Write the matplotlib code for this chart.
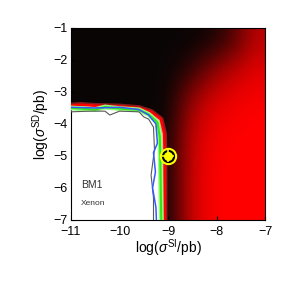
import numpy as np
import matplotlib.pyplot as plt
from matplotlib.colors import LinearSegmentedColormap

plt.rcParams['font.family'] = ['Liberation Sans', 'DejaVu Sans']
plt.rcParams['mathtext.fontset'] = 'custom'
plt.rcParams['mathtext.rm'] = 'Liberation Sans'
plt.rcParams['mathtext.it'] = 'Liberation Sans:italic'

# red intensity (rows: y = -7..-1, cols: x = -11..-7 step 0.5)
x_grid = [-11, -10.5, -10, -9.5, -9, -8.5, -8, -7.5, -7]
y_grid = [-7, -6, -5, -4, -3, -2, -1]
red_level = [
    [0, 0, 0, 0, 0.05, 0.78, 0.98, 1.0, 1.0],
    [0, 0, 0, 0, 0.05, 0.78, 0.98, 1.0, 1.0],
    [0, 0, 0, 0, 0.05, 0.75, 0.97, 1.0, 1.0],
    [0, 0, 0, 0, 0.03, 0.68, 0.93, 0.98, 1.0],
    [0, 0, 0, 0, 0.0, 0.5, 0.8, 0.92, 0.96],
    [0, 0, 0, 0, 0.0, 0.12, 0.48, 0.72, 0.88],
    [0, 0, 0, 0, 0.0, 0.0, 0.05, 0.28, 0.72],
]

# contour lines (x, y)
red_x = [-11, -10.8, -10.5, -10.0, -9.6, -9.35, -9.15, -9.08, -9.07, -9.07, -9.07]
red_y = [-3.42, -3.4, -3.43, -3.45, -3.5, -3.62, -3.85, -4.3, -5.0, -6.0, -7.0]
green_x = [-11, -10.5, -10.3, -10.0, -9.6, -9.4, -9.22, -9.17, -9.16, -9.15, -9.14]
green_y = [-3.5, -3.55, -3.47, -3.52, -3.56, -3.7, -3.95, -4.4, -5.0, -6.0, -7.0]
blue_x = [-11, -10.5, -10.0, -9.6, -9.4, -9.25, -9.22, -9.3, -9.26, -9.32, -9.25, -9.24]
blue_y = [-3.48, -3.5, -3.48, -3.55, -3.72, -4.0, -4.6, -4.9, -5.5, -6.0, -6.6, -7.0]
gray_x = [-11, -10.6, -10.3, -10.2, -10.0, -9.6, -9.5, -9.4, -9.3, -9.28, -9.35, -9.3, -9.3]
gray_y = [-3.62, -3.6, -3.6, -3.72, -3.6, -3.62, -3.78, -3.85, -4.1, -4.8, -5.6, -6.3, -7.0]

point_x = [-9.0]
point_y = [-5.0]

cmap = LinearSegmentedColormap.from_list('kr', [(0.04, 0.02, 0.02), (1.0, 0.0, 0.0)])

fig = plt.figure(figsize=(2.91, 2.91), dpi=100)
ax = fig.add_axes([0.244, 0.244, 0.667, 0.66])

ax.imshow(np.array(red_level), origin='lower', aspect='auto', cmap=cmap,
          extent=[x_grid[0], x_grid[-1], y_grid[0], y_grid[-1]],
          interpolation='bicubic', vmin=0, vmax=1)

# excluded region (white) inside the red contour
ax.fill(red_x + [-11], red_y + [-7], color='white', zorder=2)
ax.plot(red_x, red_y, color=(1.0, 0.2, 0.2), lw=4, alpha=0.5, zorder=3)
ax.plot(red_x, red_y, color='red', lw=1.8, zorder=3)
ax.plot(green_x, green_y, color=(0.6, 1.0, 0.5), lw=3.5, zorder=3)
ax.plot(green_x, green_y, color=(0.2, 0.9, 0.1), lw=1.5, zorder=3)
ax.plot(gray_x, gray_y, color='0.35', lw=0.8, zorder=4)
ax.plot(blue_x, blue_y, color=(0.2, 0.35, 1.0), lw=1.1, zorder=5)

ax.plot(point_x, point_y, 'o', ms=11.5, mfc='yellow', mec='yellow', zorder=6)
ax.plot(point_x, point_y, 'o', ms=8.5, mfc='black', mec='black', zorder=7)
ax.plot(point_x, point_y, 'o', ms=5.5, mfc='yellow', mec='yellow', zorder=8)
ax.plot(point_x, point_y, '+', ms=8.5, mec='yellow', mew=1.2, zorder=8)

ax.text(-10.8, -5.9, 'BM1', fontsize=7.5, color='0.2', va='center', zorder=9)
ax.text(-10.8, -6.47, 'Xenon', fontsize=6, color='0.2', va='center', zorder=9)

ax.set_xlim(-11, -7)
ax.set_ylim(-7, -1)
ax.set_xticks([-11, -10, -9, -8, -7])
ax.set_yticks([-7, -6, -5, -4, -3, -2, -1])
ax.tick_params(direction='in', labelsize=9, length=3, color='black')
ax.tick_params(axis='y', pad=2.5)
ax.tick_params(axis='x', pad=4)
ax.set_xlabel(r'log($\sigma^{\mathrm{SI}}$/pb)', fontsize=10, labelpad=0)
ax.set_ylabel(r'log($\sigma^{\mathrm{SD}}$/pb)', fontsize=10, labelpad=1)

fig.savefig('out.png', dpi=100)
